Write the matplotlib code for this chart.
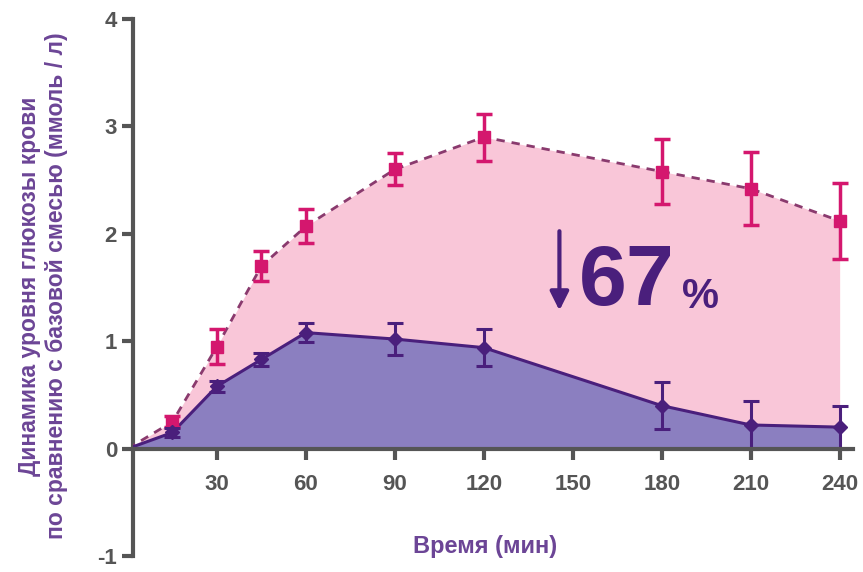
import numpy as np
import matplotlib
matplotlib.use('Agg')
import matplotlib.pyplot as plt

# time points (min) and glucose change vs base mix (mmol/l)
time_min = [0, 15, 30, 45, 60, 90, 120, 180, 210, 240]
pink_mean = [0, 0.25, 0.95, 1.70, 2.07, 2.60, 2.90, 2.58, 2.42, 2.12]
pink_err = [0, 0.05, 0.16, 0.14, 0.16, 0.15, 0.22, 0.30, 0.34, 0.35]
purple_mean = [0, 0.15, 0.58, 0.83, 1.08, 1.02, 0.94, 0.40, 0.22, 0.20]
purple_err = [0, 0.04, 0.05, 0.06, 0.09, 0.15, 0.17, 0.22, 0.22, 0.20]

x_ticks = [30, 60, 90, 120, 150, 180, 210, 240]
y_ticks = [-1, 0, 1, 2, 3, 4]

pink_fill = '#f9c6d8'
purple_fill = '#8b7fc0'
pink_mark = '#d4176e'
purple_line = '#4a1f7c'
axis_grey = '#555555'
label_purple = '#6c4596'

plt.rcParams['font.family'] = ['Liberation Sans', 'DejaVu Sans']
plt.rcParams['axes.unicode_minus'] = False

fig = plt.figure(figsize=(8.63, 5.72), dpi=100)
ax = fig.add_axes([133 / 863, 16 / 572, 720 / 863, 537 / 572])

ax.fill_between(time_min, 0, pink_mean, color=pink_fill, lw=0, zorder=1)
ax.fill_between(time_min, 0, purple_mean, color=purple_fill, lw=0, zorder=2)

ax.plot(time_min, pink_mean, ls=(0, (3, 2.5)), color='#8a3a6e', lw=2, zorder=3)
ax.plot(time_min, purple_mean, color=purple_line, lw=2.2, zorder=3)

ax.errorbar(time_min[1:], pink_mean[1:], yerr=pink_err[1:], fmt='s', color=pink_mark,
            ms=8, elinewidth=2.5, capsize=6, capthick=2.5, zorder=4)
ax.errorbar(time_min[1:], purple_mean[1:], yerr=purple_err[1:], fmt='D', color=purple_line,
            ms=7.5, elinewidth=2.2, capsize=6, capthick=2.2, zorder=5)

# reduction annotation
ax.annotate('', xy=(145.5, 1.26), xytext=(145.5, 2.05),
            arrowprops=dict(arrowstyle='-|>', color=purple_line, lw=3,
                            mutation_scale=28), zorder=6)
ax.text(152, 1.54, '67', fontsize=62, fontweight='bold', color=purple_line,
        ha='left', va='center', zorder=6)
ax.text(187, 1.41, '%', fontsize=30, fontweight='bold', color=purple_line,
        ha='left', va='center', zorder=6)

ax.set_xlim(1.7, 244.5)
ax.set_ylim(-1, 4)
ax.set_xticks(x_ticks)
ax.set_yticks(y_ticks)

for s in ['top', 'right']:
    ax.spines[s].set_visible(False)
ax.spines['bottom'].set_position(('data', 0))
ax.spines['left'].set_color(axis_grey)
ax.spines['bottom'].set_color(axis_grey)
ax.spines['left'].set_linewidth(3)
ax.spines['bottom'].set_linewidth(3)
ax.spines['bottom'].set_zorder(7)

ax.tick_params(axis='both', colors=axis_grey, width=3, length=8, direction='out',
               labelsize=16)
ax.tick_params(axis='x', pad=10)
for lab in ax.get_xticklabels() + ax.get_yticklabels():
    lab.set_fontweight('bold')
    lab.set_color(axis_grey)

fig.text(0.05, 0.50, 'Динамика уровня глюкозы крови\nпо сравнению с базовой смесью (ммоль / л)',
         rotation=90, ha='center', va='center', fontsize=16.5, fontweight='bold',
         color=label_purple, linespacing=1.25)
fig.text(0.562, 0.045, 'Время (мин)', ha='center', va='center', fontsize=17,
         fontweight='bold', color=label_purple)

fig.savefig('out.png', dpi=100)
